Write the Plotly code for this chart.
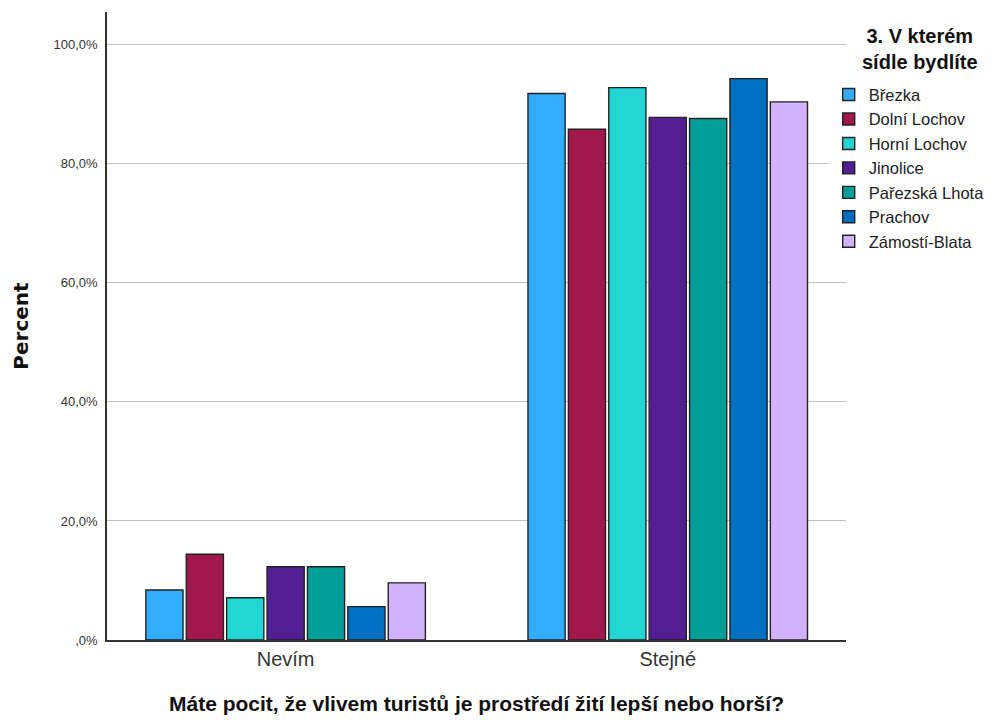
import plotly.graph_objects as go

categories = ["Nevím", "Stejné"]
series_names = ["Březka", "Dolní Lochov", "Horní Lochov", "Jinolice", "Pařezská Lhota", "Prachov", "Zámostí-Blata"]
nevim = [8.4, 14.4, 7.1, 12.3, 12.3, 5.6, 9.6]
stejne = [91.8, 85.8, 92.8, 87.8, 87.6, 94.3, 90.4]
colors = ["#31acff", "#a1194c", "#22d6d3", "#521f93", "#009e96", "#0070c2", "#d1b2fb"]
y_tickvals = [0, 20, 40, 60, 80, 100]
y_ticktext = [",0%", "20,0%", "40,0%", "60,0%", "80,0%", "100,0%"]

FONT = "Liberation Sans, Arial, sans-serif"
WIDE = "DejaVu Sans, sans-serif"

fig = go.Figure()
for i, name in enumerate(series_names):
    fig.add_trace(go.Bar(
        x=categories, y=[nevim[i], stejne[i]], name=name,
        marker=dict(color=colors[i], line=dict(color="#222222", width=1.4)),
    ))

fig.update_layout(
    width=994, height=722,
    margin=dict(l=99, r=156, t=4, b=90),
    paper_bgcolor="white", plot_bgcolor="white",
    barmode="group", bargap=0.26, bargroupgap=0.08,
    font=dict(family=FONT, color="#222222"),
    showlegend=True,
    legend=dict(
        x=0.9766, y=0.896, xanchor="left", yanchor="top",
        font=dict(family=FONT, size=16.5, color="#222222"),
        tracegroupgap=0, itemwidth=30,
    ),
    xaxis=dict(
        range=[-0.4675, 1.4665], showline=True, linecolor="#333333", linewidth=1.5,
        ticks="", tickfont=dict(size=20, color="#333333"),
        title=dict(text="<b>Máte pocit, že vlivem turistů je prostředí žití lepší nebo horší?</b>",
                   font=dict(family=FONT, size=21, color="#111111"), standoff=28),
        showgrid=False, zeroline=False,
    ),
    yaxis=dict(
        range=[0, 105.5], tickvals=y_tickvals, ticktext=y_ticktext,
        showline=True, linecolor="#333333", linewidth=1.5,
        ticks="", ticklabelstandoff=5,
        tickfont=dict(size=13, color="#333333"),
        showgrid=True, gridcolor="#c0c0c0", gridwidth=1.2, zeroline=False,
        title=dict(text="<b>Percent</b>", font=dict(family=WIDE, size=20, color="#111111"), standoff=20),
    ),
    annotations=[
        dict(text="<b>3. V kterém<br>sídle bydlíte</b>", xref="paper", yref="paper",
             x=1.100, y=0.983, xanchor="center", yanchor="top", showarrow=False, align="center",
             font=dict(family=FONT, size=20, color="#111111")),
    ],
)

fig.write_html("out.html")
